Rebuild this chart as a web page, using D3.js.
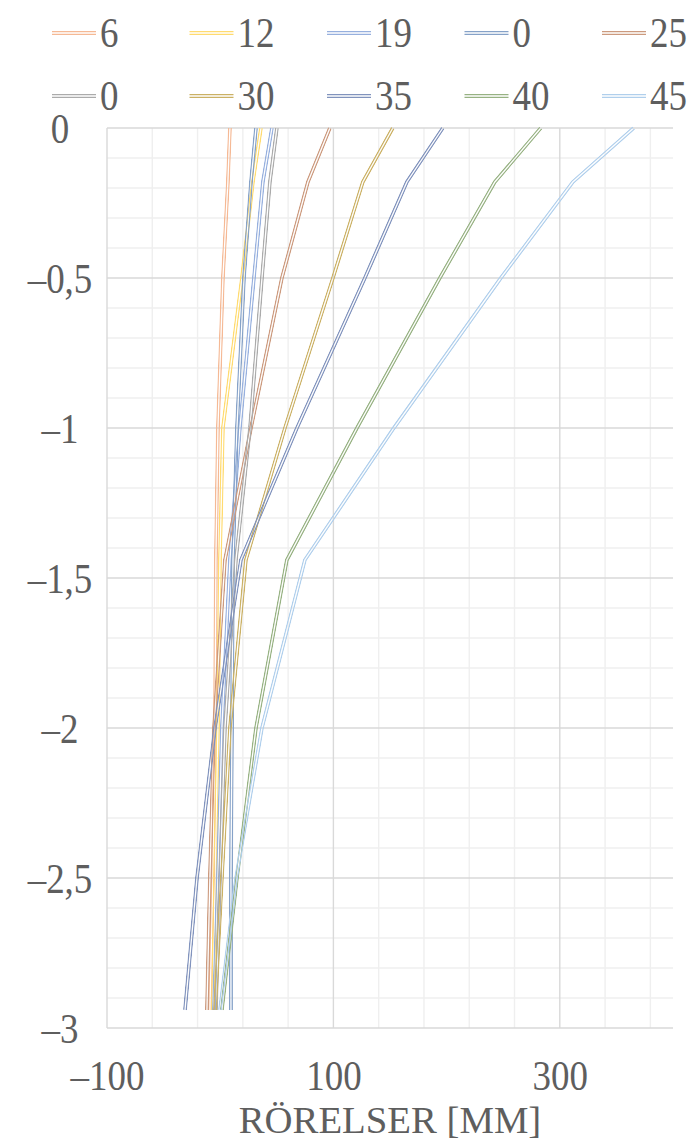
<!DOCTYPE html>
<html>
<head>
<meta charset="utf-8">
<script src="https://cdn.jsdelivr.net/npm/d3@7"></script>
<style>
  body { margin: 0; background: #fff; }
  svg { display: block; }
  text { font-family: "Liberation Serif", "DejaVu Serif", serif; fill: #5E5E5E; }
</style>
</head>
<body>
<svg id="chart" width="689" height="1143"></svg>
<script>
// Depth of each measuring point [m]
const depths = [0, -0.18, -0.5, -1.0, -1.44, -2.0, -2.5, -2.94];

// Legend labels and line colours, in drawing order
const seriesNames  = ["6", "12", "19", "0", "25", "0", "30", "35", "40", "45"];
const seriesColors = ["#F5B995", "#FFDB70", "#97B0DE", "#86A2C8", "#CC9A7E",
                      "#ABABAB", "#CBB165", "#8193BD", "#97B283", "#B0CFEC"];

// Horizontal movement [mm] at each depth
const s6    = [8.6, 6.8, 2.4, -2.0, -3.8, -4.6, -6.4, -9.1];
const s12   = [36.0, 28.9, 19.2, 2.4, -0.2, -2.0, -4.6, -6.4];
const s19   = [45.7, 37.7, 29.8, 17.4, 8.6, 1.5, -2.0, -5.5];
const s0a   = [31.6, 27.2, 21.0, 14.8, 11.3, 10.4, 9.5, 9.5];
const s25   = [96.9, 77.5, 54.5, 27.2, 4.2, -5.5, -9.1, -11.7];
const s0b   = [50.1, 43.9, 36.9, 26.3, 13.9, 4.2, -0.2, -3.8];
const s30   = [152.5, 126.0, 99.6, 57.2, 22.7, 8.6, 1.5, -4.6];
const s35   = [196.7, 164.9, 127.8, 67.8, 18.3, -4.6, -20.5, -31.1];
const s40   = [283.2, 242.6, 194.0, 120.8, 58.9, 31.6, 14.8, 1.5];
const s45   = [365.3, 311.5, 247.9, 153.4, 74.8, 36.9, 14.0, -0.2];
const seriesValues = [s6, s12, s19, s0a, s25, s0b, s30, s35, s40, s45];

// Axis ticks
const xTicks = [-100, 100, 300];
const yTicks = [0, -0.5, -1, -1.5, -2, -2.5, -3];
const xTitle = "RÖRELSER [MM]";

const svg = d3.select("#chart");
const plot = { left: 107, right: 673, top: 128, bottom: 1028 };

const x = d3.scaleLinear().domain([-100, 400]).range([plot.left, plot.right]);
const y = d3.scaleLinear().domain([0, -3]).range([plot.top, plot.bottom]);

// Narrow serif text, placed at (px, py)
const FONT = 42;
function label(parent, px, py, str, anchor, size, squeeze) {
  return parent.append("text")
    .attr("transform", `translate(${px},${py}) scale(${squeeze || 0.88},1)`)
    .attr("text-anchor", anchor || "start")
    .style("font-size", (size || FONT) + "px")
    .text(str);
}

// Gridlines: minor every 40 mm / 0.1 m, major on the labelled steps
const grid = svg.append("g");
const vMinor = d3.range(-60, 400, 40).filter(v => !xTicks.includes(v));
const hMinor = d3.range(1, 30).map(i => -i / 10).filter(v => Math.abs(v * 2 - Math.round(v * 2)) > 1e-6);

grid.selectAll("line.vminor").data(vMinor).join("line")
  .attr("x1", d => x(d)).attr("x2", d => x(d))
  .attr("y1", plot.top).attr("y2", plot.bottom)
  .attr("stroke", "#EFEFEF").attr("stroke-width", 1.4);
grid.selectAll("line.hminor").data(hMinor).join("line")
  .attr("x1", plot.left).attr("x2", plot.right)
  .attr("y1", d => y(d)).attr("y2", d => y(d))
  .attr("stroke", "#EFEFEF").attr("stroke-width", 1.4);
grid.selectAll("line.vmajor").data(xTicks.filter(v => v > -100)).join("line")
  .attr("x1", d => x(d)).attr("x2", d => x(d))
  .attr("y1", plot.top).attr("y2", plot.bottom)
  .attr("stroke", "#D9D9D9").attr("stroke-width", 1.4);
grid.selectAll("line.hmajor").data(yTicks).join("line")
  .attr("x1", plot.left).attr("x2", plot.right)
  .attr("y1", d => y(d)).attr("y2", d => y(d))
  .attr("stroke", "#D9D9D9").attr("stroke-width", 1.4);
grid.append("line")
  .attr("x1", plot.left).attr("x2", plot.left)
  .attr("y1", plot.top).attr("y2", plot.bottom)
  .attr("stroke", "#D9D9D9").attr("stroke-width", 1.4);

// Series drawn as double lines: outer band masked by a thinner core
const line = d3.line().x(d => x(d[0])).y(d => y(d[1]));
const defs = svg.append("defs");
const lines = svg.append("g");
seriesValues.forEach((vals, i) => {
  const pts = vals.map((v, k) => [v, depths[k]]);
  const path = line(pts);
  const m = defs.append("mask").attr("id", "dbl" + i)
    .attr("maskUnits", "userSpaceOnUse")
    .attr("x", 0).attr("y", 0).attr("width", 689).attr("height", 1143);
  m.append("path").attr("d", path).attr("fill", "none")
    .attr("stroke", "#fff").attr("stroke-width", 4);
  m.append("path").attr("d", path).attr("fill", "none")
    .attr("stroke", "#000").attr("stroke-width", 1.3);
  lines.append("path").attr("d", path).attr("fill", "none")
    .attr("stroke", seriesColors[i]).attr("stroke-width", 4)
    .attr("mask", `url(#dbl${i})`);
});

// Axes: tick positions come from the scales, labels are drawn narrow
const fmt = d => String(d).replace(".", ",").replace("-", "\u2013");
const xAxis = svg.append("g")
  .attr("transform", `translate(0,${plot.bottom})`)
  .call(d3.axisBottom(x).tickValues(xTicks).tickSize(0).tickFormat(""));
xAxis.select(".domain").remove();
xAxis.selectAll(".tick").each(function (d) {
  label(d3.select(this), 0, 62, fmt(d), "middle");
});

const yAxis = svg.append("g")
  .attr("transform", `translate(${plot.left},0)`)
  .call(d3.axisLeft(y).tickValues(yTicks).tickSize(0).tickFormat(""));
yAxis.select(".domain").remove();
yAxis.selectAll(".tick").each(function (d) {
  label(d3.select(this), -47, 14, fmt(d), "middle");
});

label(svg, x(150), 1133, xTitle, "middle", 38, 1.02);

// Legend: two rows of five
const legend = svg.append("g");
seriesNames.forEach((name, i) => {
  const col = i % 5, row = Math.floor(i / 5);
  const gx = 52 + col * 137.5, gy = 33 + row * 63;
  const g = legend.append("g").attr("transform", `translate(${gx},${gy})`);
  g.append("line").attr("x1", 0).attr("x2", 44).attr("y1", -1.4).attr("y2", -1.4)
    .attr("stroke", seriesColors[i]).attr("stroke-width", 1.3);
  g.append("line").attr("x1", 0).attr("x2", 44).attr("y1", 1.4).attr("y2", 1.4)
    .attr("stroke", seriesColors[i]).attr("stroke-width", 1.3);
  label(g, 48, 14, name, "start");
});
</script>
</body>
</html>
